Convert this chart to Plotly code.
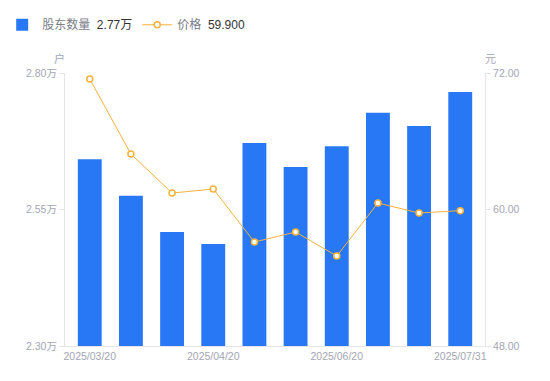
import plotly.graph_objects as go

dates = ["2025/03/20", "2025/03/31", "2025/04/10", "2025/04/20", "2025/04/30",
         "2025/05/20", "2025/06/20", "2025/06/30", "2025/07/20", "2025/07/31"]
holders = [2.642, 2.575, 2.509, 2.487, 2.672, 2.628, 2.666, 2.727, 2.703, 2.765]
prices = [71.47, 64.88, 61.45, 61.80, 57.14, 58.02, 55.91, 60.57, 59.69, 59.90]
x_tick_vals = ["2025/03/20", "2025/04/20", "2025/06/20", "2025/07/31"]
left_ticks = [2.30, 2.55, 2.80]
left_labels = ["2.30万", "2.55万", "2.80万"]
right_ticks = [48, 60, 72]
right_labels = ["48.00", "60.00", "72.00"]

bar_color = "#2878f5"
line_color = "#f7b23b"
tick_color = "#a3a6b4"
axis_line = "#e3e5ea"
FONT = "Liberation Sans, Arial, Noto Sans CJK SC, sans-serif"

fig = go.Figure()
fig.add_trace(go.Bar(
    x=dates, y=holders, name="股东数量 &nbsp;<span style='color:#333'>2.77万</span>",
    marker=dict(color=bar_color, line=dict(width=0)), width=0.58, yaxis="y",
))
fig.add_trace(go.Scatter(
    x=dates, y=prices, name="价格 &nbsp;<span style='color:#333'>59.900</span>",
    mode="lines+markers", yaxis="y2",
    line=dict(color=line_color, width=1),
    marker=dict(symbol="circle", size=6, color="white", line=dict(color=line_color, width=1.5)),
))

fig.update_layout(
    width=550, height=381,
    margin=dict(l=65, r=65, t=73, b=35, autoexpand=False),
    paper_bgcolor="white", plot_bgcolor="white",
    font=dict(family=FONT, size=10.5, color=tick_color),
    showlegend=True,
    legend=dict(orientation="h", xref="container", yref="container",
                x=0.004, xanchor="left", y=0.935, yanchor="middle",
                font=dict(size=12, color="#7a7d88", family=FONT),
                traceorder="normal", itemwidth=30, bgcolor="rgba(0,0,0,0)"),
    bargap=0.42,
    xaxis=dict(
        type="category", tickmode="array", tickvals=x_tick_vals, ticktext=x_tick_vals,
        showline=True, linecolor=axis_line, linewidth=1, showgrid=False,
        ticks="", tickfont=dict(size=10.5, color=tick_color), zeroline=False,
    ),
    yaxis=dict(
        range=[2.30, 2.80], tickmode="array", tickvals=left_ticks, ticktext=left_labels,
        showline=True, linecolor=axis_line, linewidth=1, showgrid=False,
        ticks="outside", ticklen=5, tickcolor=axis_line, zeroline=False,
        tickfont=dict(size=10.5, color=tick_color),
    ),
    yaxis2=dict(
        range=[48, 72], overlaying="y", side="right",
        tickmode="array", tickvals=right_ticks, ticktext=right_labels,
        showline=True, linecolor=axis_line, linewidth=1, showgrid=False,
        ticks="outside", ticklen=5, tickcolor=axis_line, zeroline=False,
        tickfont=dict(size=10.5, color=tick_color),
    ),
    annotations=[
        dict(text="户", xref="paper", yref="paper", x=-0.012, y=1.022, showarrow=False,
             xanchor="center", yanchor="bottom", font=dict(size=11, color=tick_color)),
        dict(text="元", xref="paper", yref="paper", x=1.012, y=1.022, showarrow=False,
             xanchor="center", yanchor="bottom", font=dict(size=11, color=tick_color)),
    ],
)

fig.write_html("out.html", config={"displayModeBar": False},
               post_script="document.body.style.margin='0';")
